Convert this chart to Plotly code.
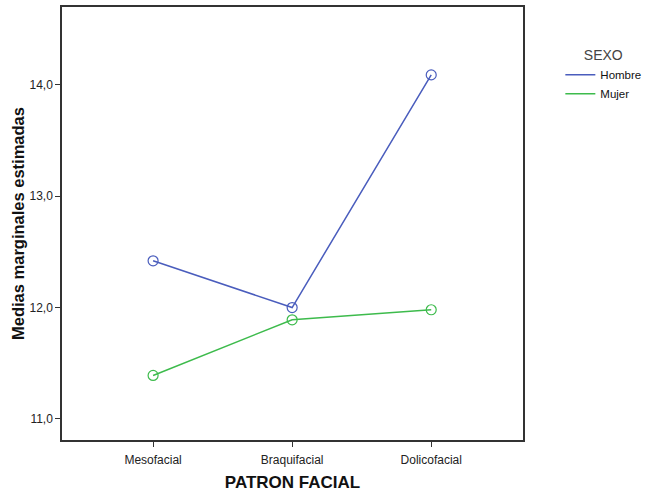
import plotly.graph_objects as go

categories = ["Mesofacial", "Braquifacial", "Dolicofacial"]
hombre = [12.42, 12.0, 14.09]
mujer = [11.39, 11.89, 11.98]
y_ticks = [11.0, 12.0, 13.0, 14.0]
y_tick_labels = ["11,0", "12,0", "13,0", "14,0"]

blue = "#4a5dbd"
green = "#3dbb4c"

fig = go.Figure()
fig.add_trace(go.Scatter(x=[0, 1, 2], y=hombre, name="Hombre", mode="lines+markers", showlegend=False,
                         line=dict(color=blue, width=1.5),
                         marker=dict(symbol="circle-open", size=10, color=blue, line=dict(width=1.2))))
fig.add_trace(go.Scatter(x=[0, 1, 2], y=mujer, name="Mujer", mode="lines+markers", showlegend=False,
                         line=dict(color=green, width=1.5),
                         marker=dict(symbol="circle-open", size=10, color=green, line=dict(width=1.2))))
# legend entries (line only)
fig.add_trace(go.Scatter(x=[None], y=[None], name="Hombre", mode="lines", line=dict(color=blue, width=1.5)))
fig.add_trace(go.Scatter(x=[None], y=[None], name="Mujer", mode="lines", line=dict(color=green, width=1.5)))

fig.update_layout(
    width=646, height=493,
    margin=dict(l=62, r=123, t=7, b=53, autoexpand=False),
    paper_bgcolor="white", plot_bgcolor="white",
    font=dict(family="Arial, Liberation Sans", size=12, color="#222"),
    showlegend=True,
    legend=dict(x=1.081, y=0.919, xanchor="left", yanchor="top",
                title=dict(text="SEXO", font=dict(size=14, color="#444"), side="top center"),
                font=dict(size=11.5, color="#111"), itemwidth=30, tracegroupgap=0,
                bgcolor="rgba(0,0,0,0)"),
    xaxis=dict(range=[-0.655, 2.66], tickmode="array", tickvals=[0, 1, 2], ticktext=categories,
               showgrid=False, zeroline=False, showline=True, linecolor="#333", linewidth=1.5,
               mirror=True, ticks="outside", ticklen=5, tickcolor="#333", ticklabelstandoff=3,
               automargin=False,
               title=dict(text="<b>PATRON FACIAL</b>", font=dict(size=17, color="#111"), standoff=10)),
    yaxis=dict(range=[10.81, 14.70], tickmode="array", tickvals=y_ticks, ticktext=y_tick_labels,
               showgrid=False, zeroline=False, showline=True, linecolor="#333", linewidth=1.5,
               mirror=True, ticks="outside", ticklen=5, tickcolor="#333", automargin=False,
               title=dict(text="<b>Medias marginales estimadas</b>", font=dict(size=16.5, color="#111"), standoff=1)),
)
fig.write_html("out.html", config={"displayModeBar": False},
               post_script="document.body.style.margin='0';")
